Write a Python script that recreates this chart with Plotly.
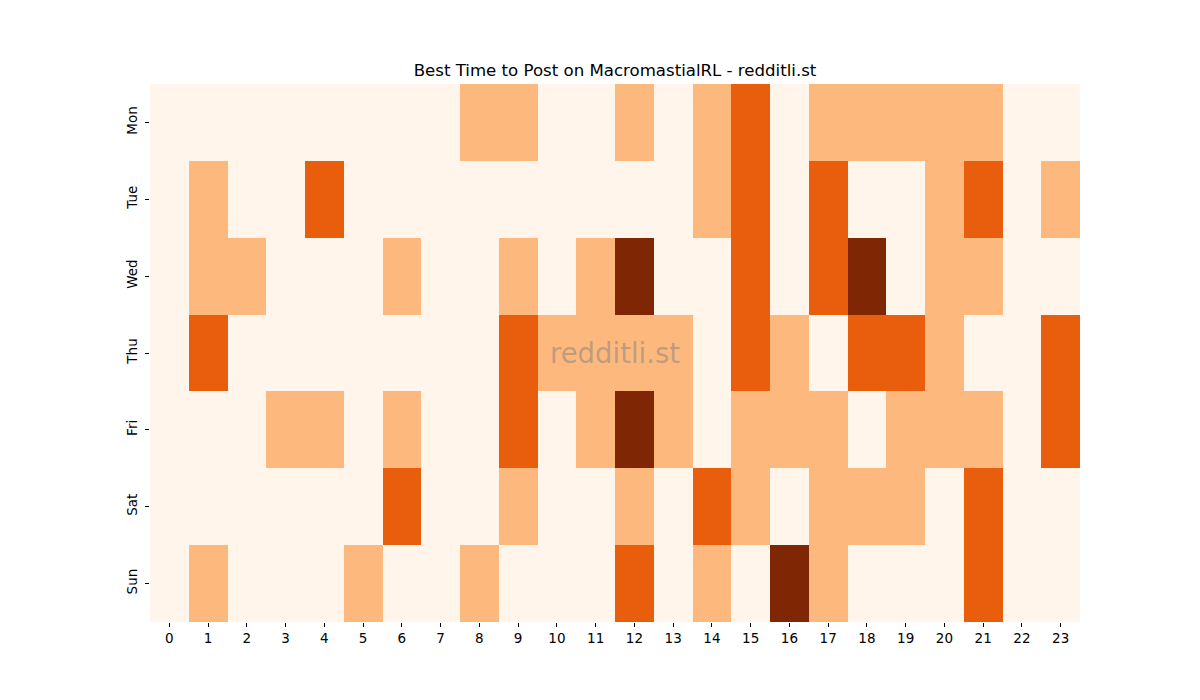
import plotly.graph_objects as go

# hours and days on the axes
hours = [str(h) for h in range(24)]
days = ["Mon", "Tue", "Wed", "Thu", "Fri", "Sat", "Sun"]

# activity level per hour (0 = low ... 3 = best)
mon = [0, 0, 0, 0, 0, 0, 0, 0, 1, 1, 0, 0, 1, 0, 1, 2, 0, 1, 1, 1, 1, 1, 0, 0]
tue = [0, 1, 0, 0, 2, 0, 0, 0, 0, 0, 0, 0, 0, 0, 1, 2, 0, 2, 0, 0, 1, 2, 0, 1]
wed = [0, 1, 1, 0, 0, 0, 1, 0, 0, 1, 0, 1, 3, 0, 0, 2, 0, 2, 3, 0, 1, 1, 0, 0]
thu = [0, 2, 0, 0, 0, 0, 0, 0, 0, 2, 1, 1, 1, 1, 0, 2, 1, 0, 2, 2, 1, 0, 0, 2]
fri = [0, 0, 0, 1, 1, 0, 1, 0, 0, 2, 0, 1, 3, 1, 0, 1, 1, 1, 0, 1, 1, 1, 0, 2]
sat = [0, 0, 0, 0, 0, 0, 2, 0, 0, 1, 0, 0, 1, 0, 2, 1, 0, 1, 1, 1, 0, 2, 0, 0]
sun = [0, 1, 0, 0, 0, 1, 0, 0, 1, 0, 0, 0, 2, 0, 1, 0, 3, 1, 0, 0, 0, 2, 0, 0]

z = [mon, tue, wed, thu, fri, sat, sun]

# Oranges-like colours for the four levels
colorscale = [
    [0.0, "#fff5eb"],
    [1 / 3, "#fdb97d"],
    [2 / 3, "#e95e0d"],
    [1.0, "#7f2704"],
]

heat = go.Heatmap(
    z=z,
    x=hours,
    y=days,
    zmin=0,
    zmax=3,
    colorscale=colorscale,
    showscale=False,
    xgap=0,
    ygap=0,
)

fig = go.Figure(data=[heat])

font_family = "DejaVu Sans"

# page adds an 8px offset, so margins are trimmed to match
fig.update_layout(
    width=1200,
    height=700,
    margin=dict(l=142, r=128, t=76, b=86),
    plot_bgcolor="white",
    paper_bgcolor="white",
    font=dict(family=font_family, size=13, color="black"),
    title=dict(
        text="Best Time to Post on MacromastialRL - redditli.st",
        x=(142 + 465) / 1200,
        xanchor="center",
        y=1 - 62 / 700,
        yanchor="middle",
        font=dict(family=font_family, size=16.6, color="black"),
    ),
)

fig.update_xaxes(
    type="category",
    ticks="outside",
    ticklen=4,
    tickwidth=1,
    tickcolor="black",
    showgrid=False,
    zeroline=False,
    showline=False,
    tickfont=dict(size=13.5),
)

fig.update_yaxes(
    type="category",
    autorange="reversed",
    ticks="outside",
    ticklen=4,
    tickwidth=1,
    tickcolor="black",
    tickangle=-90,
    ticklabelstandoff=3,
    showgrid=False,
    zeroline=False,
    showline=False,
    tickfont=dict(size=13.5),
)

# watermark
fig.add_annotation(
    text="redditli.st",
    x=0.5,
    y=0.5,
    xref="paper",
    yref="paper",
    showarrow=False,
    font=dict(family=font_family, size=27.5, color="rgba(128,128,128,0.5)"),
)

fig.write_html("out.html")
